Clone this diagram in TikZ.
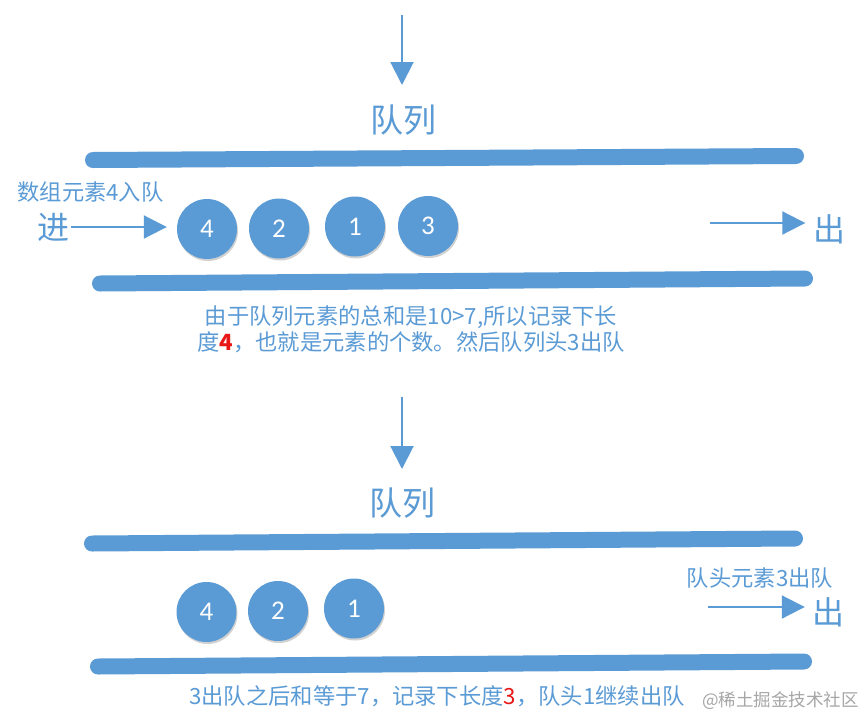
\documentclass[tikz,border=0pt]{standalone}
\usepackage{fontspec}
\setmainfont{Noto Sans CJK SC}
\newfontfamily\numfont{Carlito}
\usetikzlibrary{arrows.meta,shadows}
\definecolor{qblue}{HTML}{5B9BD5}
\definecolor{qred}{HTML}{E81818}
\definecolor{wmgray}{HTML}{A6A6A6}
\tikzset{
  bar/.style={draw=qblue,line width=16pt,line cap=round},
  ball/.style={circle,fill=qblue,minimum size=60pt,inner sep=0pt,text=white,
    font=\numfont\fontsize{27}{27}\selectfont,
    drop shadow={shadow xshift=1pt,shadow yshift=-2pt,opacity=0.18,fill=black}},
  arr/.style={draw=qblue,line width=2pt,-{Triangle[length=23pt,width=23pt]}},
  title/.style={text=qblue,inner sep=0pt,font=\fontsize{33}{33}\selectfont},
  bigc/.style={text=qblue,inner sep=0pt,font=\fontsize{32}{32}\selectfont},
  lbl/.style={text=qblue,inner sep=0pt,font=\fontsize{22.3}{25.5}\selectfont,align=center},
  wm/.style={text=wmgray,inner sep=0pt,font=\fontsize{17.5}{17.5}\selectfont}
}
\begin{document}
\begin{tikzpicture}[x=1pt,y=-1pt]
\useasboundingbox[fill=white] (0,0) rectangle (867,718);

% ---------- top section ----------
\coordinate (d1s) at (402,15);
\coordinate (d1e) at (402,85);
\draw[arr] (d1s) -- (d1e);
\node[title] (t1) at (403,120) {队列};

\draw[bar] (93,160) -- (796,156);
\draw[bar] (100,283.5) -- (805,278.5);

\node[lbl] (in1) at (90.5,192) {数组元素4入队};
\node[bigc] (jin) at (53,227) {进};
\node[ball] (a4) at (207,229) {4};
\node[ball] (a2) at (279,228.5) {2};
\node[ball] (a1) at (355,226.5) {1};
\node[ball] (a3) at (428,226) {3};
\draw[arr] ([xshift=2pt]jin.east) -- ([xshift=-10pt]jin.east -| a4.west);

\coordinate (o1s) at (710,223);
\node[bigc] (chu1) at (829,229) {出};
\draw[arr] (o1s) -- ([xshift=-7.5pt]o1s -| chu1.west);

\node[lbl] (cap1) at (411,329.5) {由于队列元素的总和是10>7,所以记录下长\\度\textcolor{qred}{\textbf{4}}，也就是元素的个数。然后队列头3出队};

% ---------- bottom section ----------
\coordinate (d2s) at (402,397);
\coordinate (d2e) at (402,469);
\draw[arr] (d2s) -- (d2e);
\node[title] (t2) at (402,503) {队列};

\draw[bar] (92,543.5) -- (795,538.5);
\draw[bar] (98,666.5) -- (804,661.5);

\node[ball] (b4) at (206.5,612) {4};
\node[ball] (b2) at (278,611) {2};
\node[ball] (b1) at (354,608.5) {1};

\node[lbl] (out2) at (760,578) {队头元素3出队};
\coordinate (o2s) at (708,607);
\node[bigc] (chu2) at (828,612) {出};
\draw[arr] (o2s) -- ([xshift=-7pt]o2s -| chu2.west);

\node[lbl,anchor=west] (cap2) at (189,696) {3出队之后和等于7，记录下长度\textcolor{qred}{3}，队头1继续出队};
\node[wm] (wmk) at (780.5,701) {@稀土掘金技术社区};
\end{tikzpicture}
\end{document}
